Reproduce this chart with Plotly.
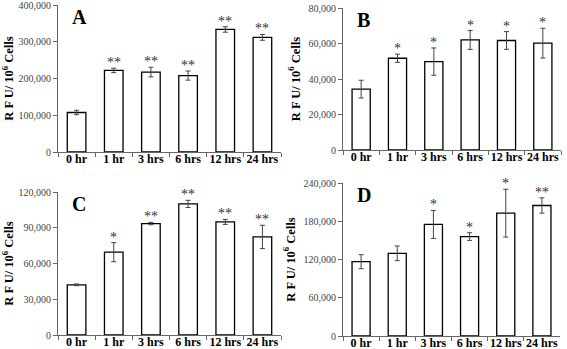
import plotly.graph_objects as go

categories = ["0 hr", "1 hr", "3 hrs", "6 hrs", "12 hrs", "24 hrs"]

a_values = [107500, 222000, 217500, 208000, 333500, 312000]
a_errors = [6000, 6000, 13000, 12500, 7500, 8000]
a_stars = ["", "**", "**", "**", "**", "**"]

b_values = [34300, 51700, 49800, 62000, 61700, 60200]
b_errors = [5000, 2300, 7700, 5300, 5000, 8400]
b_stars = ["", "*", "*", "*", "*", "*"]

c_values = [42100, 69500, 93500, 110000, 94900, 82300]
c_errors = [700, 8000, 1000, 3000, 2100, 9800]
c_stars = ["", "*", "**", "**", "**", "**"]

d_values = [116600, 129700, 175000, 156000, 192700, 204700]
d_errors = [11000, 11500, 22000, 6000, 37500, 12000]
d_stars = ["", "", "*", "*", "*", "**"]

y_ranges = [(0, 400000, 100000), (0, 80000, 20000), (0, 120000, 30000), (0, 240000, 60000)]
letters = ["A", "B", "C", "D"]

W, H = 567, 349
# pixel boxes: (left, right, top, bottom)
boxes = [(58, 281, 5, 152), (343, 561, 8, 150), (58, 281, 192, 335), (343, 560, 183, 336)]

SERIF = "Liberation Serif, Times New Roman, serif"

fig = go.Figure()
panels = [(a_values, a_errors, a_stars), (b_values, b_errors, b_stars),
          (c_values, c_errors, c_stars), (d_values, d_errors, d_stars)]

layout_axes = {}
annotations = []
for i, ((vals, errs, stars), (lo, hi, dt), box, letter) in enumerate(zip(panels, y_ranges, boxes, letters)):
    n = "" if i == 0 else str(i + 1)
    xa, ya = "x" + n, "y" + n
    fig.add_trace(go.Bar(
        x=categories, y=vals, xaxis=xa, yaxis=ya,
        marker=dict(color="white", line=dict(color="black", width=1.3)),
        error_y=dict(type="data", array=errs, visible=True, color="#444", thickness=1, width=2.5),
        width=0.5, showlegend=False,
    ))
    l, r, t, b = box
    layout_axes["xaxis" + n] = dict(
        domain=[l / W, r / W], anchor=ya, type="category", automargin=False,
        showline=True, linecolor="#666", linewidth=1,
        ticks="outside", tickson="boundaries", ticklen=4, tickcolor="#666",
        tickangle=0, ticklabelstandoff=-4, ticklabeloverflow="allow",
        tickfont=dict(family=SERIF, size=12, color="black", weight="bold"),
        showgrid=False, zeroline=False, fixedrange=True,
    )
    layout_axes["yaxis" + n] = dict(
        domain=[1 - b / H, 1 - t / H], anchor=xa, automargin=False,
        range=[lo, hi], tickvals=list(range(lo, hi + 1, dt)),
        tickformat=",d", ticklabeloverflow="allow",
        showline=True, linecolor="#666", linewidth=1,
        ticks="outside", ticklen=4, tickcolor="#666",
        tickfont=dict(family=SERIF, size=10, color="#444"),
        showgrid=False, zeroline=False,
        title=dict(text="R F U/ 10<sup>6</sup> Cells", standoff=5,
                   font=dict(family=SERIF, size=12.5, color="black", weight="bold")),
    )
    for cat, v, e, s in zip(categories, vals, errs, stars):
        if s:
            annotations.append(dict(
                x=cat, y=v + e, xref=xa, yref=ya, text=s, showarrow=False,
                yanchor="bottom", yshift=-4,
                font=dict(family=SERIF, size=14, color="#333"),
            ))
    annotations.append(dict(
        x=(l + 12) / W, y=1 - (t - 1) / H, xref="paper", yref="paper", text=letter,
        showarrow=False, xanchor="left", yanchor="top",
        font=dict(family=SERIF, size=20, color="black", weight="bold"),
    ))

fig.update_layout(
    width=W, height=H, margin=dict(l=0, r=0, t=0, b=0, autoexpand=False),
    paper_bgcolor="white", plot_bgcolor="white",
    annotations=annotations, **layout_axes,
)

fig.write_html("out.html", config={"displayModeBar": False},
               post_script="document.body.style.margin='0px';")
